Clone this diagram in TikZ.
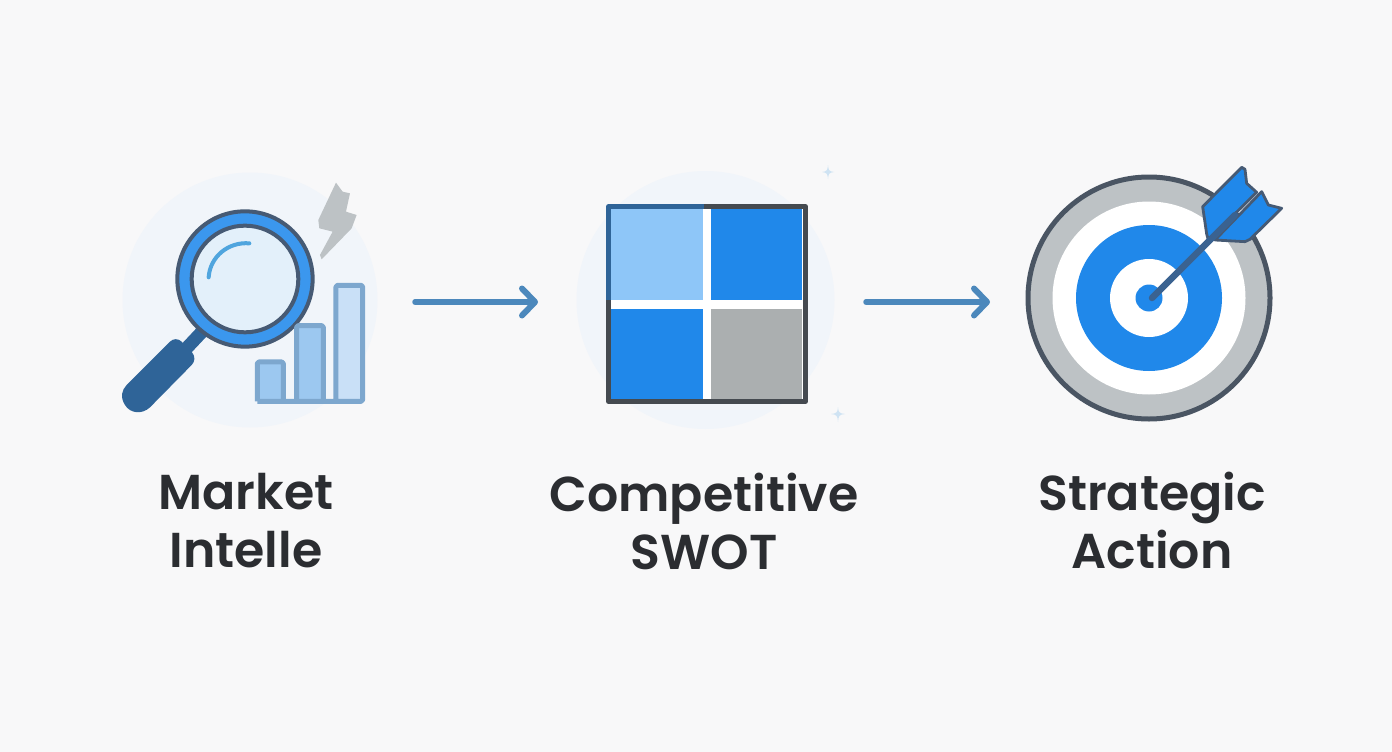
\documentclass[tikz,border=0pt]{standalone}
\usepackage{fontspec}
\setmainfont{Poppins}[UprightFont=* Medium,BoldFont=* SemiBold]
\usetikzlibrary{arrows.meta}
\definecolor{bgc}{HTML}{F8F8F9}
\definecolor{halo}{HTML}{F1F5FA}
\definecolor{bluem}{HTML}{2088EA}
\definecolor{bluer}{HTML}{3B97EE}
\definecolor{bluel}{HTML}{8EC6F8}
\definecolor{navy}{HTML}{2F6498}
\definecolor{slate}{HTML}{465A74}
\definecolor{shaftc}{HTML}{3A6290}
\definecolor{greyq}{HTML}{ABAFB0}
\definecolor{greyr}{HTML}{BDC2C5}
\definecolor{dark}{HTML}{454A50}
\definecolor{tring}{HTML}{4A5563}
\definecolor{arrowc}{HTML}{4C88BC}
\definecolor{barl}{HTML}{7DA7CE}
\definecolor{txt}{HTML}{2B2D31}
\definecolor{lens}{HTML}{E3F0FA}
\definecolor{bluehl}{HTML}{4FA5DE}
\definecolor{barm}{HTML}{9CC8F0}
\definecolor{barp}{HTML}{C9E0F7}
\definecolor{sparkc}{HTML}{CFE3F3}
\tikzset{
 flow/.style={draw=arrowc,line width=5.5pt,line cap=round,line join=round,-{Straight Barb[length=13pt,width=27pt,line width=6pt,round]}},
 lab/.style={font=\fontsize{49}{58}\selectfont\bfseries,text=txt,align=center,inner sep=0pt},
 barbox/.style={draw=barl,line width=5pt,line join=round,rounded corners=1.5pt},
 ringline/.style={draw=slate,line width=4pt},
 feather/.style={fill=bluem,draw=slate,line width=2.8pt,line join=round},
}
\begin{document}
\begin{tikzpicture}[x=1pt,y=-1pt]
\useasboundingbox (0,0) rectangle (1392,752);
\fill[bgc] (0,0) rectangle (1392,752);
\fill[halo] (250,300) circle[radius=127.5];
\fill[halo] (705.5,300) circle[radius=129];
% handle
\begin{scope}[shift={(115,310)},x=0.3333pt,y=-0.3333pt]
 \draw[navy,line width=13pt] (205,125) -- (268,58);
 \fill[navy] (165,95) .. controls (175,85) and (190,85) .. (200,95) -- (230,125) .. controls (242,140) and (240,155) .. (230,165) -- (105,292) .. controls (80,315) and (45,310) .. (30,285) .. controls (15,262) and (20,240) .. (35,225) -- cycle;
\end{scope}
\begin{scope}[shift={(110,160)},x=0.3333pt,y=-0.3333pt]
 \fill[greyr] (678,68) -- (698,95) -- (720,100) -- (708,155) -- (740,165) -- (725,205) -- (635,298) -- (630,285) -- (668,215) -- (628,205) -- (625,180) -- cycle;
 \fill[bluer] (405,357) circle[radius=203];
 \draw[ringline] (405,357) circle[radius=203];
 \fill[lens] (405,357) circle[radius=160];
 \draw[ringline] (405,357) circle[radius=160];
 \draw[draw=bluehl,line width=4pt,line cap=round] (296,352) .. controls (300,290) and (355,245) .. (418,250);
 \fill[barm] (442,606) rectangle (520,722);
 \fill[barm] (560,497) rectangle (640,722);
 \fill[barp] (678,376) rectangle (758,722);
 \draw[barbox] (442,724) -- (442,606) -- (520,606) -- (520,724);
 \draw[barbox] (560,724) -- (560,497) -- (640,497) -- (640,724);
 \draw[barbox] (678,724) -- (678,376) -- (758,376) -- (758,724) -- (442,724);
\end{scope}
\fill[white] (606,204) rectangle (808,404);
\fill[bluel] (611,209) rectangle (703,300);
\fill[bluem] (711,209) rectangle (802,300);
\fill[bluem] (611,309) rectangle (703,399);
\fill[greyq] (711,309) rectangle (802,399);
\draw[dark,line width=5pt,line join=round] (704,206.5) -- (805.5,206.5) -- (805.5,401.5) -- (608.5,401.5) -- (608.5,300);
\draw[navy,line width=5pt,line join=round] (608.5,300) -- (608.5,206.5) -- (704,206.5);
\fill[sparkc] (828,165) .. controls (828.4,170) and (829,171.5) .. (834,172) .. controls (829,172.5) and (828.4,174) .. (828,179) .. controls (827.6,174) and (827,172.5) .. (822,172) .. controls (827,171.5) and (827.6,170) .. (828,165) -- cycle;
\fill[sparkc] (838,407) .. controls (838.4,412) and (839,413.5) .. (845,414) .. controls (839,414.5) and (838.4,416) .. (838,422) .. controls (837.6,416) and (837,414.5) .. (831,414) .. controls (837,413.5) and (837.6,412) .. (838,407) -- cycle;
\fill[greyr] (1149,298) circle[radius=122];
\draw[tring,line width=5pt] (1149,298) circle[radius=121];
\fill[white] (1149,298) circle[radius=96.5];
\fill[bluem] (1149,298) circle[radius=73];
\fill[white] (1149,298) circle[radius=39];
\fill[bluem] (1149,298) circle[radius=13.5];
% dart
\begin{scope}[shift={(1190,160)},x=0.3333pt,y=-0.3333pt]
 \filldraw[feather] (38,140) -- (155,22) -- (165,28) -- (170,70) -- (200,97) -- (55,240) -- (50,222) -- cycle;
 \filldraw[feather] (215,95) -- (235,135) -- (275,145) -- (180,238) -- (165,245) -- (75,240) -- cycle;
 \draw[shaftc,line width=6.5pt,line cap=round] (-114,414) -- (135,165);
\end{scope}
\coordinate (a1) at (415,302);
\coordinate (a2) at (538,302);
\coordinate (b1) at (866,302);
\coordinate (b2) at (990,302);
\draw[flow] (a1) -- (a2);
\draw[flow] (b1) -- (b2);
\node[lab] (l1) at (246,521) {Market\\Intelle};
\node[lab] (l2) at (704,521) {Competitive\\SWOT};
\node[lab] (l3) at (1152,521) {Strategic\\Action};
\end{tikzpicture}
\end{document}
